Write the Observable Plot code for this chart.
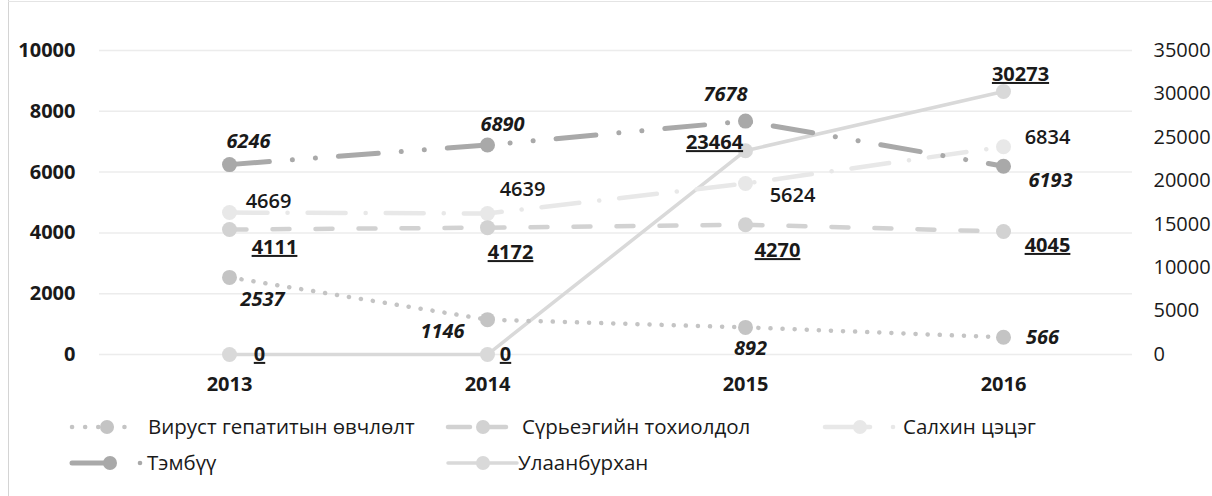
<!DOCTYPE html>
<html><head><meta charset="utf-8">
<script src="https://cdn.jsdelivr.net/npm/d3@7"></script>
<script src="https://cdn.jsdelivr.net/npm/@observablehq/plot@0.6"></script>
<style>
body{margin:0;background:#fff;font-family:"Open Sans",sans-serif;}
#wrap{position:relative;width:1212px;height:496px;overflow:hidden;background:#fff;}
#frame{position:absolute;left:8px;top:0;width:1px;height:496px;background:#d4d4d4;}
#frameTop{position:absolute;left:8px;top:1px;width:1204px;height:1px;background:#e4e4e4;}
#chart{position:absolute;left:0;top:0;}
#legend{position:absolute;left:0;top:400px;}
g.ul text{text-decoration:underline;}
</style></head><body><div id="wrap"><div id="frame"></div><div id="frameTop"></div><div id="chart"></div><svg id="legend" width="1212" height="96"></svg></div>
<script>
// ---- data ----
const years = ["2013", "2014", "2015", "2016"];
const seriesNames = ["Вируст гепатитын өвчлөлт", "Сүрьеэгийн тохиолдол", "Салхин цэцэг", "Тэмбүү", "Улаанбурхан"];
const hepatitis = [2537, 1146, 892, 566];
const tuberculosis = [4111, 4172, 4270, 4045];
const chickenpox = [4669, 4639, 5624, 6834];
const syphilis = [6246, 6890, 7678, 6193];
const measles = [0, 0, 23464, 30273];      // right axis
const leftTicks = [0, 2000, 4000, 6000, 8000, 10000];
const rightTicks = [0, 5000, 10000, 15000, 20000, 25000, 30000, 35000];
const LEFT_MAX = 10000, RIGHT_MAX = 35000;

// ---- styles (not data) ----
const seriesValues = [hepatitis, tuberculosis, chickenpox, syphilis, measles];
const rightAxis = [false, false, false, false, true];
const styles = [
  {stroke: "#c4c4c4", dash: "0.1 12", width: 4.5, italic: true, ul: false, weight: "bold",
   off: [[33, 22], [-45, 12], [5, 21], [39, 0]]},
  {stroke: "#d2d2d2", dash: "17 26", width: 4.5, italic: false, ul: true, weight: "bold",
   off: [[45, 18], [23, 25], [32, 26], [44, 14]]},
  {stroke: "#e8e8e8", dash: "38 20 0.1 20", width: 4.5, italic: false, ul: false, weight: "600",
   off: [[39, -11], [35, -24], [47, 12], [44, -9]]},
  {stroke: "#a9a9a9", dash: "40 23 0.1 23 0.1 23", width: 5, italic: true, ul: false, weight: "bold",
   off: [[19, -23], [15, -20], [-20, -26], [47, 14]]},
  {stroke: "#d9d9d9", dash: null, width: 3.5, italic: false, ul: true, weight: "bold",
   off: [[30, 0], [18, 0], [-31, -8], [17, -17]]}
];
const toLeft = v => v * LEFT_MAX / RIGHT_MAX;

const rows = [];
seriesValues.forEach((vals, i) => vals.forEach((v, j) => rows.push({
  series: seriesNames[i], si: i, year: years[j], yi: j, value: v,
  y: rightAxis[i] ? toLeft(v) : v
})));

const FONT = "'Open Sans', sans-serif";
const marks = [
  Plot.gridY(leftTicks, {stroke: "#ececec", strokeOpacity: 1, strokeWidth: 1.5}),
  Plot.axisY(leftTicks, {anchor: "left", tickSize: 0, tickPadding: 24, fontSize: 20, fontWeight: "bold",
    tickFormat: d => String(d), label: null, fill: "#1a1a1a"}),
  Plot.axisY(rightTicks.map(toLeft), {anchor: "right", tickSize: 0, tickPadding: 21, fontSize: 20,
    tickFormat: v => String(Math.round(v * RIGHT_MAX / LEFT_MAX)), label: null, fill: "#1a1a1a"}),
  Plot.axisX(years, {tickSize: 0, tickPadding: 22, fontSize: 20, fontWeight: "bold", label: null, fill: "#1a1a1a"})
];
// draw order: measles, chickenpox, TB, hepatitis, syphilis
[4, 2, 1, 0, 3].forEach(i => {
  const s = styles[i];
  const d = rows.filter(r => r.si === i);
  marks.push(Plot.line(d, {x: "year", y: "y", stroke: s.stroke, strokeWidth: s.width,
    strokeDasharray: s.dash || undefined, strokeLinecap: "round"}));
  marks.push(Plot.dot(d, {x: "year", y: "y", r: 7.5, fill: s.stroke, stroke: "none"}));
});
styles.forEach((s, i) => {
  rows.filter(r => r.si === i).forEach(r => {
    marks.push(Plot.text([r], {x: "year", y: "y", text: d => String(d.value),
      dx: s.off[r.yi][0], dy: s.off[r.yi][1], fontSize: 20, fontWeight: s.weight,
      fontStyle: s.italic ? "italic" : "normal", fill: "#1a1a1a", textAnchor: "middle",
      lineAnchor: "middle", className: s.ul ? "ul" : undefined}));
  });
});

const chart = Plot.plot({
  width: 1212, height: 400,
  marginLeft: 99, marginRight: 80, marginTop: 50, marginBottom: 46,
  x: {type: "point", domain: years, padding: 0.5, axis: null},
  y: {domain: [0, LEFT_MAX], axis: null},
  style: {fontFamily: FONT, background: "transparent", color: "#1a1a1a"},
  marks
});
document.getElementById("chart").appendChild(chart);

// ---- legend ----
const leg = d3.select("#legend");
const items = [
  {i: 0, row: 0, x0: 72, x1: 135, cx: 107, dot: null, tx: 148, dash: "0.1 13"},
  {i: 1, row: 0, x0: 448, x1: 510, cx: 483, dot: null, tx: 522, dash: "22 14"},
  {i: 2, row: 0, x0: 825, x1: 870, cx: 860, dot: 893, tx: 903, dash: null},
  {i: 3, row: 1, x0: 72, x1: 112, cx: 110, dot: 140, tx: 147, dash: null},
  {i: 4, row: 1, x0: 448, x1: 517, cx: 483, dot: null, tx: 518, dash: null}
];
const rowY = [27, 63];
items.forEach(it => {
  const s = styles[it.i];
  const y = rowY[it.row];
  const g = leg.append("g");
  g.append("line").attr("x1", it.x0).attr("x2", it.x1).attr("y1", y).attr("y2", y)
    .attr("stroke", s.stroke).attr("stroke-width", s.width).attr("stroke-linecap", "round")
    .attr("stroke-dasharray", it.dash);
  g.append("circle").attr("cx", it.cx).attr("cy", y).attr("r", 7).attr("fill", s.stroke);
  if (it.dot) g.append("circle").attr("cx", it.dot).attr("cy", y).attr("r", 2.3).attr("fill", s.stroke);
  g.append("text").attr("x", it.tx).attr("y", y).attr("dy", "0.35em")
    .attr("font-family", FONT).attr("font-size", 20.5).attr("fill", "#1a1a1a")
    .text(seriesNames[it.i]);
});
</script></body></html>
